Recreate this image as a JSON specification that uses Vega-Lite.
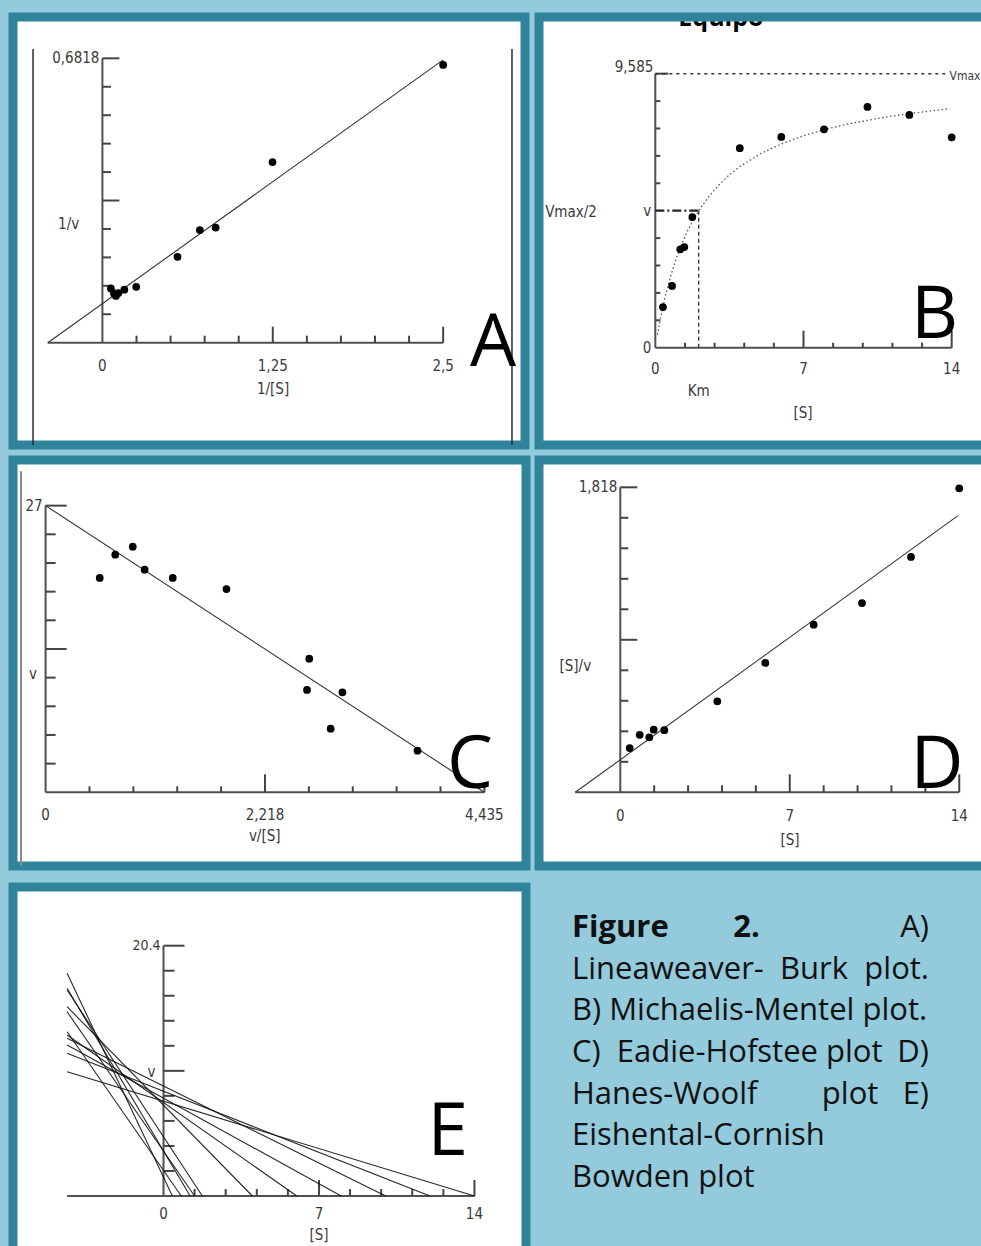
{
"$schema": "https://vega.github.io/schema/vega-lite/v6.json",
"background": "#93CBDC",
"padding": {"left": 8, "top": 12, "right": 0, "bottom": 0},
"config": {
  "view": {"stroke": "#2F839B", "strokeWidth": 9, "fill": "#ffffff"},
  "axis": {"disable": true},
  "text": {"font": "Liberation Sans Narrow, Arial Narrow, DejaVu Sans Condensed, Liberation Sans, sans-serif", "fontSize": 15, "color": "#3a3a3a", "baseline": "middle", "align": "center"}
},
"datasets": {
  "A_axes": [{"x": -0.401, "y": 0, "x2": 2.5, "y2": 0}, {"x": 0, "y": 0, "x2": 0, "y2": 0.6818}],
  "A_frame": [{"x": -0.509, "y": -0.2453, "x2": -0.509, "y2": 0.704}, {"x": 3.005, "y": -0.2453, "x2": 3.005, "y2": 0.704}],
  "A_pts": [{"x": 0.062, "y": 0.130}, {"x": 0.085, "y": 0.118}, {"x": 0.099, "y": 0.112}, {"x": 0.117, "y": 0.119}, {"x": 0.161, "y": 0.127}, {"x": 0.248, "y": 0.134}, {"x": 0.551, "y": 0.206}, {"x": 0.715, "y": 0.270}, {"x": 0.831, "y": 0.276}, {"x": 1.248, "y": 0.433}, {"x": 2.5, "y": 0.666}],
  "A_fit": [{"x": -0.401, "y": 0}, {"x": 2.5, "y": 0.678}],
  "A_xt": [{"v": 0.25, "major": false}, {"v": 0.5, "major": false}, {"v": 0.75, "major": false}, {"v": 1.0, "major": false}, {"v": 1.25, "major": true}, {"v": 1.5, "major": false}, {"v": 1.75, "major": false}, {"v": 2.0, "major": false}, {"v": 2.25, "major": false}, {"v": 2.5, "major": true}],
  "A_yt": [{"v": 0.0682, "major": false}, {"v": 0.1364, "major": false}, {"v": 0.2045, "major": false}, {"v": 0.2727, "major": false}, {"v": 0.3409, "major": true}, {"v": 0.4091, "major": false}, {"v": 0.4773, "major": false}, {"v": 0.5454, "major": false}, {"v": 0.6136, "major": false}, {"v": 0.6818, "major": true}],
  "A_xl": [{"v": 0, "t": "0"}, {"v": 1.25, "t": "1,25"}, {"v": 2.5, "t": "2,5"}],
  "A_yl": [{"v": 0.6818, "t": "0,6818"}],
  "B_axes": [{"x": 0, "y": 0, "x2": 14, "y2": 0}, {"x": 0, "y": 0, "x2": 0, "y2": 9.585}],
  "B_ref": [{"kind": "vmax", "x": 0, "y": 9.585, "x2": 13.86, "y2": 9.585}, {"kind": "half", "x": 0, "y": 4.7925, "x2": 2.05, "y2": 4.7925}, {"kind": "km", "x": 2.05, "y": 0, "x2": 2.05, "y2": 4.7925}],
  "B_pts": [{"x": 0.36, "y": 1.42}, {"x": 0.79, "y": 2.16}, {"x": 1.18, "y": 3.44}, {"x": 1.37, "y": 3.52}, {"x": 1.75, "y": 4.57}, {"x": 3.99, "y": 6.98}, {"x": 5.95, "y": 7.37}, {"x": 7.97, "y": 7.64}, {"x": 10.02, "y": 8.42}, {"x": 12.0, "y": 8.14}, {"x": 14.0, "y": 7.36}],
  "B_curve": [{"x": 0.1, "y": 0.45}, {"x": 0.3, "y": 1.25}, {"x": 0.5, "y": 1.88}, {"x": 0.75, "y": 2.57}, {"x": 1.0, "y": 3.14}, {"x": 1.25, "y": 3.63}, {"x": 1.5, "y": 4.05}, {"x": 1.75, "y": 4.41}, {"x": 2.05, "y": 4.79}, {"x": 2.5, "y": 5.26}, {"x": 3.0, "y": 5.69}, {"x": 3.5, "y": 6.05}, {"x": 4.0, "y": 6.34}, {"x": 5.0, "y": 6.8}, {"x": 6.0, "y": 7.14}, {"x": 7.0, "y": 7.41}, {"x": 8.0, "y": 7.63}, {"x": 9.0, "y": 7.81}, {"x": 10.0, "y": 7.95}, {"x": 11.0, "y": 8.08}, {"x": 12.0, "y": 8.19}, {"x": 13.0, "y": 8.28}, {"x": 13.9, "y": 8.36}],
  "B_xt": [{"v": 1.4, "major": false}, {"v": 2.8, "major": false}, {"v": 4.2, "major": false}, {"v": 5.6, "major": false}, {"v": 7, "major": true}, {"v": 8.4, "major": false}, {"v": 9.8, "major": false}, {"v": 11.2, "major": false}, {"v": 12.6, "major": false}, {"v": 14, "major": true}],
  "B_yt": [{"v": 0.9585, "major": false}, {"v": 1.917, "major": false}, {"v": 2.8755, "major": false}, {"v": 3.834, "major": false}, {"v": 5.751, "major": false}, {"v": 6.7095, "major": false}, {"v": 7.668, "major": false}, {"v": 8.6265, "major": false}, {"v": 9.585, "major": true}],
  "B_xl": [{"v": 0, "t": "0"}, {"v": 7, "t": "7"}, {"v": 14, "t": "14"}],
  "B_yl": [{"v": 0, "t": "0", "top": false}, {"v": 4.7925, "t": "v", "top": false}, {"v": 9.585, "t": "9,585", "top": true}],
  "C_axes": [{"x": 0, "y": 0, "x2": 4.435, "y2": 0}, {"x": 0, "y": 0, "x2": 0, "y2": 9.827}],
  "C_frame": [{"x": -0.2486, "y": -2.527, "x2": -0.2486, "y2": 11.01}],
  "C_pts": [{"x": 0.547, "y": 7.347}, {"x": 0.704, "y": 8.146}, {"x": 0.881, "y": 8.42}, {"x": 1.001, "y": 7.631}, {"x": 1.285, "y": 7.347}, {"x": 1.828, "y": 6.969}, {"x": 2.665, "y": 4.58}, {"x": 2.642, "y": 3.507}, {"x": 3.0, "y": 3.428}, {"x": 2.881, "y": 2.18}, {"x": 3.759, "y": 1.426}],
  "C_fit": [{"x": 0, "y": 9.827}, {"x": 4.435, "y": 0}],
  "C_xt": [{"v": 0.4435, "major": false}, {"v": 0.887, "major": false}, {"v": 1.3305, "major": false}, {"v": 1.774, "major": false}, {"v": 2.2175, "major": true}, {"v": 2.661, "major": false}, {"v": 3.1045, "major": false}, {"v": 3.548, "major": false}, {"v": 3.9915, "major": false}, {"v": 4.435, "major": false}],
  "C_yt": [{"v": 0.9827, "major": false}, {"v": 1.9654, "major": false}, {"v": 2.9481, "major": false}, {"v": 3.9308, "major": false}, {"v": 4.9135, "major": true}, {"v": 5.8962, "major": false}, {"v": 6.8789, "major": false}, {"v": 7.8616, "major": false}, {"v": 8.8443, "major": false}, {"v": 9.827, "major": true}],
  "C_xl": [{"v": 0, "t": "0"}, {"v": 2.218, "t": "2,218"}, {"v": 4.435, "t": "4,435"}],
  "C_yl": [{"v": 9.827, "t": "27"}],
  "D_axes": [{"x": -1.859, "y": 0, "x2": 14, "y2": 0}, {"x": 0, "y": 0, "x2": 0, "y2": 1.818}],
  "D_pts": [{"x": 0.388, "y": 0.264}, {"x": 0.801, "y": 0.343}, {"x": 1.198, "y": 0.328}, {"x": 1.38, "y": 0.373}, {"x": 1.817, "y": 0.37}, {"x": 4.007, "y": 0.542}, {"x": 5.989, "y": 0.771}, {"x": 7.988, "y": 0.999}, {"x": 9.983, "y": 1.128}, {"x": 12.007, "y": 1.403}, {"x": 14.0, "y": 1.812}],
  "D_fit": [{"x": -1.859, "y": 0}, {"x": 13.95, "y": 1.649}],
  "D_xt": [{"v": 1.4, "major": false}, {"v": 2.8, "major": false}, {"v": 4.2, "major": false}, {"v": 5.6, "major": false}, {"v": 7, "major": true}, {"v": 8.4, "major": false}, {"v": 9.8, "major": false}, {"v": 11.2, "major": false}, {"v": 12.6, "major": false}, {"v": 14, "major": true}],
  "D_yt": [{"v": 0.1818, "major": false}, {"v": 0.3636, "major": false}, {"v": 0.5454, "major": false}, {"v": 0.7272, "major": false}, {"v": 0.909, "major": true}, {"v": 1.0908, "major": false}, {"v": 1.2726, "major": false}, {"v": 1.4544, "major": false}, {"v": 1.6362, "major": false}, {"v": 1.818, "major": true}],
  "D_xl": [{"v": 0, "t": "0"}, {"v": 7, "t": "7"}, {"v": 14, "t": "14"}],
  "D_yl": [{"v": 1.818, "t": "1,818"}],
  "E_axes": [{"x": -4.34, "y": 0, "x2": 14, "y2": 0}, {"x": 0, "y": 0, "x2": 0, "y2": 20.4}],
  "E_lines": [
    {"s": 0.4, "x": -4.34, "y": 18.15}, {"s": 0.4, "x": 0.4, "y": 0},
    {"s": 0.8, "x": -4.34, "y": 13.39}, {"s": 0.8, "x": 0.8, "y": 0},
    {"s": 1.2, "x": -4.34, "y": 16.93}, {"s": 1.2, "x": 1.2, "y": 0},
    {"s": 1.4, "x": -4.34, "y": 15.02}, {"s": 1.4, "x": 1.4, "y": 0},
    {"s": 1.75, "x": -4.34, "y": 16.79}, {"s": 1.75, "x": 1.75, "y": 0},
    {"s": 4, "x": -4.34, "y": 15.43}, {"s": 4, "x": 4, "y": 0},
    {"s": 6, "x": -4.34, "y": 13.12}, {"s": 6, "x": 6, "y": 0},
    {"s": 8, "x": -4.34, "y": 12.31}, {"s": 8, "x": 8, "y": 0},
    {"s": 10, "x": -4.34, "y": 12.85}, {"s": 10, "x": 10, "y": 0},
    {"s": 12, "x": -4.34, "y": 11.63}, {"s": 12, "x": 12, "y": 0},
    {"s": 14, "x": -4.34, "y": 10.13}, {"s": 14, "x": 14, "y": 0}
  ],
  "E_xt": [{"v": 1.4, "major": false}, {"v": 2.8, "major": false}, {"v": 4.2, "major": false}, {"v": 5.6, "major": false}, {"v": 7, "major": true}, {"v": 8.4, "major": false}, {"v": 9.8, "major": false}, {"v": 11.2, "major": false}, {"v": 12.6, "major": false}, {"v": 14, "major": true}],
  "E_yt": [{"v": 2.04, "major": false}, {"v": 4.08, "major": false}, {"v": 6.12, "major": false}, {"v": 8.16, "major": false}, {"v": 10.2, "major": true}, {"v": 12.24, "major": false}, {"v": 14.28, "major": false}, {"v": 16.32, "major": false}, {"v": 18.36, "major": false}, {"v": 20.4, "major": true}],
  "E_xl": [{"v": 0, "t": "0"}, {"v": 7, "t": "7"}, {"v": 14, "t": "14"}],
  "E_yl": [{"v": 20.4, "t": "20.4"}],
  "caption": [
    {"line": 1, "side": "L", "bold": true, "text": "Figure\u00a0\u00a0\u00a0\u00a0\u00a0\u00a0\u00a0\u00a02."},
    {"line": 1, "side": "R", "bold": false, "text": "A)"},
    {"line": 2, "side": "L", "bold": false, "text": "Lineaweaver-\u00a0\u00a0Burk"},
    {"line": 2, "side": "R", "bold": false, "text": "plot."},
    {"line": 3, "side": "L", "bold": false, "text": "B) Michaelis-Mentel plot."},
    {"line": 4, "side": "L", "bold": false, "text": "C)\u00a0\u00a0Eadie-Hofstee\u00a0plot"},
    {"line": 4, "side": "R", "bold": false, "text": "D)"},
    {"line": 5, "side": "L", "bold": false, "text": "Hanes-Woolf\u00a0\u00a0\u00a0\u00a0\u00a0\u00a0\u00a0\u00a0plot"},
    {"line": 5, "side": "R", "bold": false, "text": "E)"},
    {"line": 6, "side": "L", "bold": false, "text": "Eishental-Cornish"},
    {"line": 7, "side": "L", "bold": false, "text": "Bowden plot"}
  ]
},
"vconcat": [
 {"vconcat": [
  {"hconcat": [
   {"width": 512, "height": 428,
    "layer": [
     {"data": {"name": "A_axes"}, "mark": {"type": "rule", "color": "#505050", "strokeWidth": 2},
      "encoding": {
       "x": {"field": "x", "type": "quantitative", "scale": {"domain": [-0.656, 3.1005], "nice": false, "zero": false}},
       "x2": {"field": "x2"},
       "y": {"field": "y", "type": "quantitative", "scale": {"domain": [-0.2453, 0.7809], "nice": false, "zero": false}},
       "y2": {"field": "y2"}}},
     {"data": {"name": "A_frame"}, "mark": {"type": "rule", "color": "#2a2a2a", "strokeWidth": 1.5},
      "encoding": {"x": {"field": "x", "type": "quantitative"}, "x2": {"field": "x2"}, "y": {"field": "y", "type": "quantitative"}, "y2": {"field": "y2"}}},
     {"data": {"name": "A_xt"}, "transform": [{"filter": "!datum.major"}], "mark": {"type": "rule", "color": "#444", "strokeWidth": 2, "y2Offset": -7},
      "encoding": {"x": {"field": "v", "type": "quantitative"}, "y": {"datum": 0}, "y2": {"datum": 0}}},
     {"data": {"name": "A_xt"}, "transform": [{"filter": "datum.major"}], "mark": {"type": "rule", "color": "#444", "strokeWidth": 2, "y2Offset": -16},
      "encoding": {"x": {"field": "v", "type": "quantitative"}, "y": {"datum": 0}, "y2": {"datum": 0}}},
     {"data": {"name": "A_yt"}, "transform": [{"filter": "!datum.major"}], "mark": {"type": "rule", "color": "#444", "strokeWidth": 2, "x2Offset": 8.5},
      "encoding": {"y": {"field": "v", "type": "quantitative"}, "x": {"datum": 0}, "x2": {"datum": 0}}},
     {"data": {"name": "A_yt"}, "transform": [{"filter": "datum.major"}], "mark": {"type": "rule", "color": "#444", "strokeWidth": 2, "x2Offset": 17},
      "encoding": {"y": {"field": "v", "type": "quantitative"}, "x": {"datum": 0}, "x2": {"datum": 0}}},
     {"data": {"name": "A_xl"}, "mark": {"type": "text", "dy": 23},
      "encoding": {"x": {"field": "v", "type": "quantitative"}, "y": {"datum": 0}, "text": {"field": "t"}}},
     {"data": {"name": "A_yl"}, "mark": {"type": "text", "align": "right", "dx": -3},
      "encoding": {"y": {"field": "v", "type": "quantitative"}, "x": {"datum": 0}, "text": {"field": "t"}}},
     {"data": {"values": [{"t": "1/[S]"}]}, "mark": {"type": "text"},
      "encoding": {"x": {"datum": 1.252}, "y": {"datum": -0.111}, "text": {"field": "t"}}},
     {"data": {"values": [{"t": "1/v"}]}, "mark": {"type": "text"},
      "encoding": {"x": {"datum": -0.248}, "y": {"datum": 0.2853}, "text": {"field": "t"}}},
     {"data": {"name": "A_fit"}, "mark": {"type": "line", "color": "#333", "strokeWidth": 1.1},
      "encoding": {"x": {"field": "x", "type": "quantitative"}, "y": {"field": "y", "type": "quantitative"}}},
     {"data": {"name": "A_pts"}, "mark": {"type": "point", "filled": true, "color": "#000", "size": 60, "opacity": 1},
      "encoding": {"x": {"field": "x", "type": "quantitative"}, "y": {"field": "y", "type": "quantitative"}}},
     {"data": {"values": [{"letter": "A"}]}, "mark": {"type": "text", "font": "Open Sans", "fontSize": 73, "color": "#000", "align": "center", "baseline": "alphabetic"},
      "encoding": {"x": {"datum": 2.866}, "y": {"datum": -0.0559}, "text": {"field": "letter"}}}
    ]},
   {"width": 453, "height": 428,
    "view": {"stroke": null, "fill": "#ffffff"},
    "layer": [
     {"data": {"name": "B_axes"}, "mark": {"type": "rule", "color": "#505050", "strokeWidth": 2},
      "encoding": {
       "x": {"field": "x", "type": "quantitative", "scale": {"domain": [-5.494, 15.904], "nice": false, "zero": false}},
       "x2": {"field": "x2"},
       "y": {"field": "y", "type": "quantitative", "scale": {"domain": [-3.403, 11.567], "nice": false, "zero": false}},
       "y2": {"field": "y2"}}},
     {"data": {"name": "B_xt"}, "transform": [{"filter": "!datum.major"}], "mark": {"type": "rule", "color": "#444", "strokeWidth": 2, "y2Offset": -5},
      "encoding": {"x": {"field": "v", "type": "quantitative"}, "y": {"datum": 0}, "y2": {"datum": 0}}},
     {"data": {"name": "B_xt"}, "transform": [{"filter": "datum.major"}], "mark": {"type": "rule", "color": "#444", "strokeWidth": 2, "y2Offset": -17},
      "encoding": {"x": {"field": "v", "type": "quantitative"}, "y": {"datum": 0}, "y2": {"datum": 0}}},
     {"data": {"name": "B_yt"}, "transform": [{"filter": "!datum.major"}], "mark": {"type": "rule", "color": "#444", "strokeWidth": 2, "x2Offset": 5},
      "encoding": {"y": {"field": "v", "type": "quantitative"}, "x": {"datum": 0}, "x2": {"datum": 0}}},
     {"data": {"name": "B_yt"}, "transform": [{"filter": "datum.major"}], "mark": {"type": "rule", "color": "#444", "strokeWidth": 2, "x2Offset": 13},
      "encoding": {"y": {"field": "v", "type": "quantitative"}, "x": {"datum": 0}, "x2": {"datum": 0}}},
     {"data": {"name": "B_xl"}, "mark": {"type": "text", "dy": 21},
      "encoding": {"x": {"field": "v", "type": "quantitative"}, "y": {"datum": 0}, "text": {"field": "t"}}},
     {"data": {"name": "B_yl"}, "transform": [{"filter": "!datum.top"}], "mark": {"type": "text", "align": "right", "dx": -4},
      "encoding": {"y": {"field": "v", "type": "quantitative"}, "x": {"datum": 0}, "text": {"field": "t"}}},
     {"data": {"name": "B_yl"}, "transform": [{"filter": "datum.top"}], "mark": {"type": "text", "align": "right", "dx": -2, "dy": -7},
      "encoding": {"y": {"field": "v", "type": "quantitative"}, "x": {"datum": 0}, "text": {"field": "t"}}},
     {"data": {"values": [{"t": "[S]"}]}, "mark": {"type": "text"},
      "encoding": {"x": {"datum": 6.977}, "y": {"datum": -2.284}, "text": {"field": "t"}}},
     {"data": {"values": [{"t": "Vmax/2"}]}, "mark": {"type": "text"},
      "encoding": {"x": {"datum": -3.982}, "y": {"datum": 4.746}, "text": {"field": "t"}}},
     {"data": {"values": [{"t": "Km"}]}, "mark": {"type": "text"},
      "encoding": {"x": {"datum": 2.05}, "y": {"datum": -1.514}, "text": {"field": "t"}}},
     {"data": {"values": [{"t": "Vmax"}]}, "mark": {"type": "text", "fontSize": 12, "align": "left"},
      "encoding": {"x": {"datum": 13.9}, "y": {"datum": 9.5}, "text": {"field": "t"}}},
     {"data": {"name": "B_ref"}, "transform": [{"filter": "datum.kind == 'vmax'"}], "mark": {"type": "rule", "color": "#333", "strokeWidth": 1.5, "strokeDash": [3, 4]},
      "encoding": {"x": {"field": "x", "type": "quantitative"}, "x2": {"field": "x2"}, "y": {"field": "y", "type": "quantitative"}, "y2": {"field": "y2"}}},
     {"data": {"name": "B_ref"}, "transform": [{"filter": "datum.kind == 'half'"}], "mark": {"type": "rule", "color": "#222", "strokeWidth": 2.2, "strokeDash": [9, 3, 2, 3]},
      "encoding": {"x": {"field": "x", "type": "quantitative"}, "x2": {"field": "x2"}, "y": {"field": "y", "type": "quantitative"}, "y2": {"field": "y2"}}},
     {"data": {"name": "B_ref"}, "transform": [{"filter": "datum.kind == 'km'"}], "mark": {"type": "rule", "color": "#333", "strokeWidth": 1.3, "strokeDash": [4, 3]},
      "encoding": {"x": {"field": "x", "type": "quantitative"}, "x2": {"field": "x2"}, "y": {"field": "y", "type": "quantitative"}, "y2": {"field": "y2"}}},
     {"data": {"name": "B_curve"}, "mark": {"type": "line", "color": "#555", "strokeWidth": 1.3, "strokeDash": [1.5, 2.5]},
      "encoding": {"x": {"field": "x", "type": "quantitative"}, "y": {"field": "y", "type": "quantitative"}}},
     {"data": {"name": "B_pts"}, "mark": {"type": "point", "filled": true, "color": "#000", "size": 60, "opacity": 1},
      "encoding": {"x": {"field": "x", "type": "quantitative"}, "y": {"field": "y", "type": "quantitative"}}},
     {"data": {"values": [{"t": "Equipo"}]}, "mark": {"type": "text", "font": "Open Sans", "fontWeight": "bold", "fontSize": 25, "color": "#000", "align": "center", "baseline": "alphabetic", "clip": true},
      "encoding": {"x": {"datum": 3.1}, "y": {"datum": 11.252}, "text": {"field": "t"}}},
     {"data": {"values": [{"letter": "B"}]}, "mark": {"type": "text", "font": "Open Sans", "fontSize": 73, "color": "#000", "align": "center", "baseline": "alphabetic"},
      "encoding": {"x": {"datum": 13.19}, "y": {"datum": 0.339}, "text": {"field": "letter"}}},
     {"data": {"values": [{"panel": "B"}]}, "mark": {"type": "rect", "fill": null, "fillOpacity": 0, "stroke": "#2F839B", "strokeWidth": 9},
      "encoding": {"x": {"datum": -5.494}, "x2": {"datum": 15.904}, "y": {"datum": -3.403}, "y2": {"datum": 11.567}}}
    ]}
  ], "spacing": 4},
  {"hconcat": [
   {"width": 513, "height": 406,
    "layer": [
     {"data": {"name": "C_axes"}, "mark": {"type": "rule", "color": "#505050", "strokeWidth": 2},
      "encoding": {
       "x": {"field": "x", "type": "quantitative", "scale": {"domain": [-0.3295, 4.8555], "nice": false, "zero": false}},
       "x2": {"field": "x2"},
       "y": {"field": "y", "type": "quantitative", "scale": {"domain": [-2.527, 11.392], "nice": false, "zero": false}},
       "y2": {"field": "y2"}}},
     {"data": {"name": "C_frame"}, "mark": {"type": "rule", "color": "#8a8a8a", "strokeWidth": 2},
      "encoding": {"x": {"field": "x", "type": "quantitative"}, "x2": {"field": "x2"}, "y": {"field": "y", "type": "quantitative"}, "y2": {"field": "y2"}}},
     {"data": {"name": "C_xt"}, "transform": [{"filter": "!datum.major"}], "mark": {"type": "rule", "color": "#444", "strokeWidth": 2, "y2Offset": -6},
      "encoding": {"x": {"field": "v", "type": "quantitative"}, "y": {"datum": 0}, "y2": {"datum": 0}}},
     {"data": {"name": "C_xt"}, "transform": [{"filter": "datum.major"}], "mark": {"type": "rule", "color": "#444", "strokeWidth": 2, "y2Offset": -18},
      "encoding": {"x": {"field": "v", "type": "quantitative"}, "y": {"datum": 0}, "y2": {"datum": 0}}},
     {"data": {"name": "C_yt"}, "transform": [{"filter": "!datum.major"}], "mark": {"type": "rule", "color": "#444", "strokeWidth": 2, "x2Offset": 10},
      "encoding": {"y": {"field": "v", "type": "quantitative"}, "x": {"datum": 0}, "x2": {"datum": 0}}},
     {"data": {"name": "C_yt"}, "transform": [{"filter": "datum.major"}], "mark": {"type": "rule", "color": "#444", "strokeWidth": 2, "x2Offset": 21},
      "encoding": {"y": {"field": "v", "type": "quantitative"}, "x": {"datum": 0}, "x2": {"datum": 0}}},
     {"data": {"name": "C_xl"}, "mark": {"type": "text", "dy": 22.4},
      "encoding": {"x": {"field": "v", "type": "quantitative"}, "y": {"datum": 0}, "text": {"field": "t"}}},
     {"data": {"name": "C_yl"}, "mark": {"type": "text", "align": "right", "dx": -3},
      "encoding": {"y": {"field": "v", "type": "quantitative"}, "x": {"datum": 0}, "text": {"field": "t"}}},
     {"data": {"values": [{"t": "v/[S]"}]}, "mark": {"type": "text"},
      "encoding": {"x": {"datum": 2.2145}, "y": {"datum": -1.508}, "text": {"field": "t"}}},
     {"data": {"values": [{"t": "v"}]}, "mark": {"type": "text"},
      "encoding": {"x": {"datum": -0.127}, "y": {"datum": 4.056}, "text": {"field": "t"}}},
     {"data": {"name": "C_fit"}, "mark": {"type": "line", "color": "#333", "strokeWidth": 1.1},
      "encoding": {"x": {"field": "x", "type": "quantitative"}, "y": {"field": "y", "type": "quantitative"}}},
     {"data": {"name": "C_pts"}, "mark": {"type": "point", "filled": true, "color": "#000", "size": 60, "opacity": 1},
      "encoding": {"x": {"field": "x", "type": "quantitative"}, "y": {"field": "y", "type": "quantitative"}}},
     {"data": {"values": [{"letter": "C"}]}, "mark": {"type": "text", "font": "Open Sans", "fontSize": 73, "color": "#000", "align": "center", "baseline": "alphabetic"},
      "encoding": {"x": {"datum": 4.289}, "y": {"datum": 0.147}, "text": {"field": "letter"}}}
    ]},
   {"width": 453, "height": 406,
    "layer": [
     {"data": {"name": "D_axes"}, "mark": {"type": "rule", "color": "#505050", "strokeWidth": 2},
      "encoding": {
       "x": {"field": "x", "type": "quantitative", "scale": {"domain": [-3.358, 15.353], "nice": false, "zero": false}},
       "x2": {"field": "x2"},
       "y": {"field": "y", "type": "quantitative", "scale": {"domain": [-0.4393, 1.9807], "nice": false, "zero": false}},
       "y2": {"field": "y2"}}},
     {"data": {"name": "D_xt"}, "transform": [{"filter": "!datum.major"}], "mark": {"type": "rule", "color": "#444", "strokeWidth": 2, "y2Offset": -7},
      "encoding": {"x": {"field": "v", "type": "quantitative"}, "y": {"datum": 0}, "y2": {"datum": 0}}},
     {"data": {"name": "D_xt"}, "transform": [{"filter": "datum.major"}], "mark": {"type": "rule", "color": "#444", "strokeWidth": 2, "y2Offset": -18},
      "encoding": {"x": {"field": "v", "type": "quantitative"}, "y": {"datum": 0}, "y2": {"datum": 0}}},
     {"data": {"name": "D_yt"}, "transform": [{"filter": "!datum.major"}], "mark": {"type": "rule", "color": "#444", "strokeWidth": 2, "x2Offset": 8},
      "encoding": {"y": {"field": "v", "type": "quantitative"}, "x": {"datum": 0}, "x2": {"datum": 0}}},
     {"data": {"name": "D_yt"}, "transform": [{"filter": "datum.major"}], "mark": {"type": "rule", "color": "#444", "strokeWidth": 2, "x2Offset": 17},
      "encoding": {"y": {"field": "v", "type": "quantitative"}, "x": {"datum": 0}, "x2": {"datum": 0}}},
     {"data": {"name": "D_xl"}, "mark": {"type": "text", "dy": 24},
      "encoding": {"x": {"field": "v", "type": "quantitative"}, "y": {"datum": 0}, "text": {"field": "t"}}},
     {"data": {"name": "D_yl"}, "mark": {"type": "text", "align": "right", "dx": -3},
      "encoding": {"y": {"field": "v", "type": "quantitative"}, "x": {"datum": 0}, "text": {"field": "t"}}},
     {"data": {"values": [{"t": "[S]"}]}, "mark": {"type": "text"},
      "encoding": {"x": {"datum": 7.01}, "y": {"datum": -0.2825}, "text": {"field": "t"}}},
     {"data": {"values": [{"t": "[S]/v"}]}, "mark": {"type": "text"},
      "encoding": {"x": {"datum": -1.859}, "y": {"datum": 0.751}, "text": {"field": "t"}}},
     {"data": {"name": "D_fit"}, "mark": {"type": "line", "color": "#333", "strokeWidth": 1.1},
      "encoding": {"x": {"field": "x", "type": "quantitative"}, "y": {"field": "y", "type": "quantitative"}}},
     {"data": {"name": "D_pts"}, "mark": {"type": "point", "filled": true, "color": "#000", "size": 60, "opacity": 1},
      "encoding": {"x": {"field": "x", "type": "quantitative"}, "y": {"field": "y", "type": "quantitative"}}},
     {"data": {"values": [{"letter": "D"}]}, "mark": {"type": "text", "font": "Open Sans", "fontSize": 73, "color": "#000", "align": "center", "baseline": "alphabetic"},
      "encoding": {"x": {"datum": 13.08}, "y": {"datum": 0.0256}, "text": {"field": "letter"}}}
    ]}
  ], "spacing": 3}
 ], "spacing": 4},
 {"hconcat": [
   {"width": 513, "height": 378,
    "layer": [
     {"data": {"name": "E_axes"}, "mark": {"type": "rule", "color": "#505050", "strokeWidth": 2},
      "encoding": {
       "x": {"field": "x", "type": "quantitative", "scale": {"domain": [-6.776, 16.321], "nice": false, "zero": false}},
       "x2": {"field": "x2"},
       "y": {"field": "y", "type": "quantitative", "scale": {"domain": [-5.623, 25.183], "nice": false, "zero": false}},
       "y2": {"field": "y2"}}},
     {"data": {"name": "E_xt"}, "transform": [{"filter": "!datum.major"}], "mark": {"type": "rule", "color": "#444", "strokeWidth": 2, "y2Offset": -7},
      "encoding": {"x": {"field": "v", "type": "quantitative"}, "y": {"datum": 0}, "y2": {"datum": 0}}},
     {"data": {"name": "E_xt"}, "transform": [{"filter": "datum.major"}], "mark": {"type": "rule", "color": "#444", "strokeWidth": 2, "y2Offset": -16},
      "encoding": {"x": {"field": "v", "type": "quantitative"}, "y": {"datum": 0}, "y2": {"datum": 0}}},
     {"data": {"name": "E_yt"}, "transform": [{"filter": "!datum.major"}], "mark": {"type": "rule", "color": "#444", "strokeWidth": 2, "x2Offset": 11},
      "encoding": {"y": {"field": "v", "type": "quantitative"}, "x": {"datum": 0}, "x2": {"datum": 0}}},
     {"data": {"name": "E_yt"}, "transform": [{"filter": "datum.major"}], "mark": {"type": "rule", "color": "#444", "strokeWidth": 2, "x2Offset": 21},
      "encoding": {"y": {"field": "v", "type": "quantitative"}, "x": {"datum": 0}, "x2": {"datum": 0}}},
     {"data": {"name": "E_xl"}, "mark": {"type": "text", "dy": 18.3},
      "encoding": {"x": {"field": "v", "type": "quantitative"}, "y": {"datum": 0}, "text": {"field": "t"}}},
     {"data": {"name": "E_yl"}, "mark": {"type": "text", "align": "right", "dx": -3, "fontSize": 14},
      "encoding": {"y": {"field": "v", "type": "quantitative"}, "x": {"datum": 0}, "text": {"field": "t"}}},
     {"data": {"values": [{"t": "[S]"}]}, "mark": {"type": "text"},
      "encoding": {"x": {"datum": 7.0}, "y": {"datum": -3.178}, "text": {"field": "t"}}},
     {"data": {"values": [{"t": "v"}]}, "mark": {"type": "text"},
      "encoding": {"x": {"datum": -0.54}, "y": {"datum": 10.13}, "text": {"field": "t"}}},
     {"data": {"name": "E_lines"}, "mark": {"type": "line", "color": "#111", "strokeWidth": 1.1, "opacity": 0.9},
      "encoding": {"x": {"field": "x", "type": "quantitative"}, "y": {"field": "y", "type": "quantitative"}, "detail": {"field": "s", "type": "nominal"}}},
     {"data": {"values": [{"letter": "E"}]}, "mark": {"type": "text", "font": "Open Sans", "fontSize": 73, "color": "#000", "align": "center", "baseline": "alphabetic"},
      "encoding": {"x": {"datum": 12.8}, "y": {"datum": 3.34}, "text": {"field": "letter"}}}
    ]},
   {"width": 357, "height": 378,
    "view": {"stroke": "#93CBDC", "strokeWidth": 9, "fill": "#93CBDC"},
    "data": {"name": "caption"},
    "layer": [
     {"transform": [{"filter": "datum.side == 'L' && !datum.bold"}], "mark": {"type": "text", "font": "Open Sans", "fontSize": 31, "color": "#111", "align": "left", "baseline": "alphabetic"},
      "encoding": {"x": {"datum": 0, "scale": {"domain": [0, 1], "nice": false, "zero": false}},
                   "y": {"field": "line", "type": "quantitative", "scale": {"domain": [-0.2, 8.871], "reverse": true, "nice": false, "zero": false}},
                   "text": {"field": "text"}}},
     {"transform": [{"filter": "datum.side == 'L' && datum.bold"}], "mark": {"type": "text", "font": "Open Sans", "fontWeight": "bold", "fontSize": 31, "color": "#111", "align": "left", "baseline": "alphabetic"},
      "encoding": {"x": {"datum": 0}, "y": {"field": "line", "type": "quantitative"}, "text": {"field": "text"}}},
     {"transform": [{"filter": "datum.side == 'R'"}], "mark": {"type": "text", "font": "Open Sans", "fontSize": 31, "color": "#111", "align": "right", "baseline": "alphabetic"},
      "encoding": {"x": {"datum": 1}, "y": {"field": "line", "type": "quantitative"}, "text": {"field": "text"}}}
    ]}
 ], "spacing": 36}
],
"spacing": 10
}
